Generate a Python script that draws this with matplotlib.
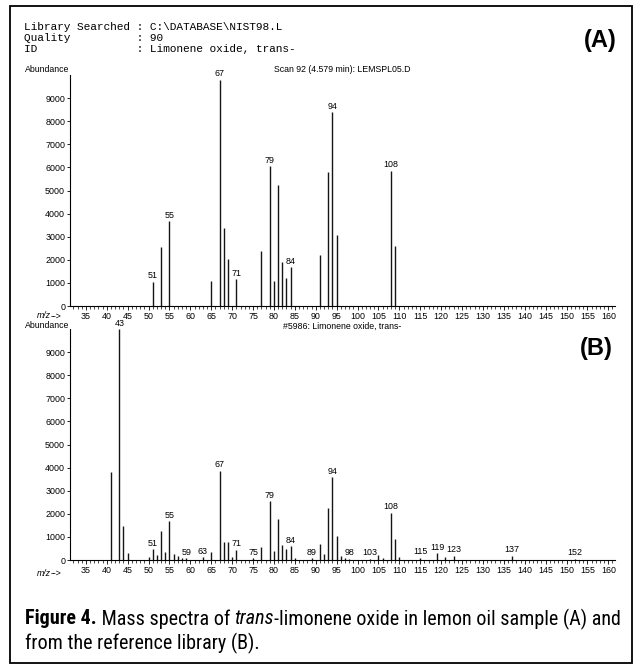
import matplotlib
matplotlib.use("Agg")
from matplotlib import pyplot as plt
from matplotlib import font_manager
from matplotlib.patches import Rectangle
from matplotlib.ticker import MultipleLocator

# ---- spectrum (A): lemon oil sample, scan 92
mz_a = [51, 53, 55, 65, 67, 68, 69, 71, 77, 79, 80, 81, 82, 83, 84,
        91, 93, 94, 95, 108, 109]
ab_a = [1050, 2550, 3680, 1080, 9790, 3370, 2020, 1170, 2400, 6040, 1100,
        5250, 1890, 1230, 1680, 2200, 5820, 8380, 3090, 5860, 2600]
lab_a = [51, 55, 67, 71, 79, 84, 94, 108]

# ---- spectrum (B): library reference #5986
mz_b = [41, 43, 44, 45, 50, 51, 52, 53, 54, 55, 56, 57, 58, 59, 63, 65,
        67, 68, 69, 70, 71, 75, 77, 79, 80, 81, 82, 83, 84, 85, 89, 91,
        92, 93, 94, 95, 96, 97, 98, 103, 105, 106, 108, 109, 110, 115,
        119, 121, 123, 137, 152]
ab_b = [3820, 9990, 1460, 290, 150, 470, 220, 1240, 360, 1680, 260, 170,
        100, 80, 120, 340, 3870, 800, 760, 120, 440, 70, 580, 2550, 390,
        1790, 660, 480, 610, 70, 70, 700, 260, 2250, 3580, 1060, 170, 100,
        60, 60, 230, 100, 2040, 920, 150, 100, 290, 150, 180, 190, 50]
lab_b = [43, 51, 55, 59, 63, 67, 71, 75, 79, 84, 89, 94, 98, 103, 108,
         115, 119, 123, 137, 152]

yticks = list(range(0, 10000, 1000))
xticks = list(range(35, 161, 5))

header_lines = ["Library Searched : C:\\DATABASE\\NIST98.L",
                "Quality          : 90",
                "ID               : Limonene oxide, trans-"]
title_a = "Scan 92 (4.579 min): LEMSPL05.D"
title_b = "#5986: Limonene oxide, trans-"

W, H = 640, 664

# pick a condensed family for the caption, one that has a bold face
weights = {}
for f in font_manager.fontManager.ttflist:
	if 'Narrow' in f.name or 'Condensed' in f.name:
		w = f.weight if isinstance(f.weight, int) else 400
		weights.setdefault(f.name, set()).add(w)
narrow = 'Liberation Sans'
prefer = ['Liberation Sans Narrow', 'Roboto Condensed', 'Open Sans Condensed',
          'Noto Sans Condensed', 'DejaVu Sans Condensed']
ranked = [n for n in prefer if n in weights] + sorted(weights)
for name in ranked:
	if max(weights[name]) >= 600:
		narrow = name
		break
plt.rcParams['font.family'] = ['Liberation Sans', 'DejaVu Sans']

fig = plt.figure(figsize=(W / 100, H / 100), dpi=100)
renderer = fig.canvas.get_renderer()


def fx(px):
	return px / W


def fy(py):
	return 1 - py / H


def rich(x, y, pieces, size, family):
	# draw text pieces one after another on the same line
	for s, weight, style in pieces:
		t = fig.text(fx(x), fy(y), s, fontsize=size, fontweight=weight,
		             fontstyle=style, family=family, ha='left', va='center')
		x += t.get_window_extent(renderer).width
	return x


def spectrum(top, mz, ab, labels):
	ax = fig.add_axes([fx(70), fy(top + 231), fx(545), 231 / H])
	ax.vlines(mz, 0, ab, color='#151515', lw=1.0)
	ax.set_xlim(31.2, 161.6)
	ax.set_ylim(0, 10000)
	for s in ['top', 'right']:
		ax.spines[s].set_visible(False)
	for s in ['left', 'bottom']:
		ax.spines[s].set_linewidth(0.8)
	ax.set_xticks(xticks)
	ax.set_yticks(yticks)
	ax.xaxis.set_minor_locator(MultipleLocator(1))
	ax.tick_params(axis='both', which='major', labelsize=6.4, length=3,
	               width=0.6, pad=1.5)
	ax.tick_params(axis='both', which='minor', length=2, width=0.5)
	ax.tick_params(axis='y', which='major', length=2)
	for m, a in zip(mz, ab):
		if m in labels:
			ax.annotate(str(m), (m, a), xytext=(0, 1), textcoords='offset points',
			            ha='center', va='bottom', fontsize=6.4)
	return ax


ax1 = spectrum(75, mz_a, ab_a, lab_a)
ax2 = spectrum(329, mz_b, ab_b, lab_b)

# header block (monospace)
for i, line in enumerate(header_lines):
	fig.text(fx(24), fy(27 + 11 * i), line, family='Liberation Mono',
	         fontsize=8, ha='left', va='center')

fig.text(fx(617), fy(40), "(A)", fontsize=17, fontweight='bold', ha='right', va='center')
fig.text(fx(613), fy(349), "(B)", fontsize=17, fontweight='bold', ha='right', va='center')

fig.text(fx(69), fy(70), "Abundance", fontsize=6.3, ha='right', va='center')
fig.text(fx(69), fy(326), "Abundance", fontsize=6.3, ha='right', va='center')
fig.text(fx(342), fy(70), title_a, fontsize=6.3, ha='center', va='center')
fig.text(fx(342), fy(326), title_b, fontsize=6.3, ha='center', va='center')

for yy in [316, 573]:
	rich(37, yy, [("m/z", 'normal', 'italic'), ("-->", 'normal', 'normal')],
	     6.3, 'Liberation Sans')

# caption, sized so line 1 spans the box
line1 = [("Figure 4.", 'bold', 'normal'), (" Mass spectra of ", 'normal', 'normal'),
         ("trans", 'normal', 'italic'),
         ("-limonene oxide in lemon oil sample (A) and", 'normal', 'normal')]
line2 = [("from the reference library (B).", 'normal', 'normal')]
probe = [fig.text(0, 0, s, fontsize=10, fontweight=w, fontstyle=st, family=narrow)
         for s, w, st in line1]
wid = sum(t.get_window_extent(renderer).width for t in probe)
for t in probe:
	t.remove()
cap_size = 10 * (620 - 25) / wid
rich(25, 619, line1, cap_size, narrow)
rich(25, 643, line2, cap_size, narrow)

# outer box
fig.patches.append(Rectangle((fx(10), fy(663)), fx(622), (663 - 6) / H,
                             transform=fig.transFigure, fill=False,
                             edgecolor='black', lw=1.3))

fig.savefig("out.png", dpi=100)
